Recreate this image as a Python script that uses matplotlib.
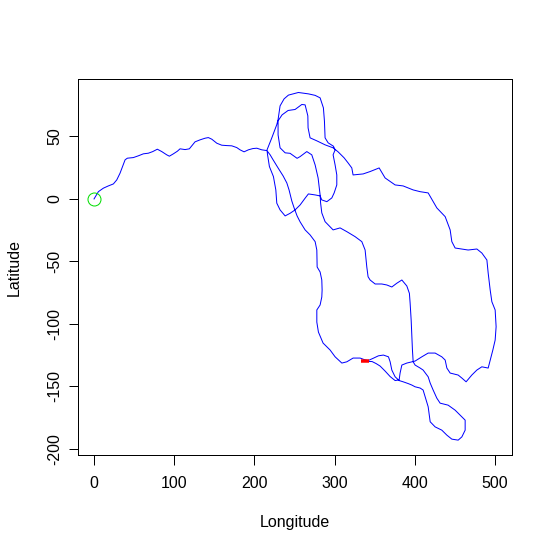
import matplotlib
matplotlib.use("Agg")
import matplotlib.pyplot as plt

# track, split into legs in the order they are walked
leg_west = [(0, 0), (5.4, 5.8), (11.6, 8.6), (17.8, 10.4), (24.1, 12.0), (28.3, 15.2),
            (32.4, 20.6), (35.8, 26.4), (38.7, 31.3), (41.5, 32.6), (49.0, 33.1),
            (55.2, 34.5), (61.5, 36.1), (67.7, 36.6), (73.2, 37.9), (78.9, 39.8),
            (84.4, 37.9), (90.6, 35.3), (93.9, 34.2), (98.9, 36.1), (103.9, 38.2),
            (107.2, 40.1), (113.5, 39.5), (118.8, 40.1), (121.8, 42.5), (125.9, 45.7),
            (132.2, 47.3), (138.4, 48.6), (142.5, 49.1), (146.8, 47.8), (153.0, 44.6),
            (159.2, 43.0), (165.5, 42.7), (171.7, 42.5), (177.9, 41.1), (182.0, 39.3),
            (187.0, 37.7), (192.4, 39.3), (197.9, 40.3), (202.9, 40.6), (209.1, 39.3),
            (215.3, 38.7)]

leg_north = [(221.6, 48.9), (227.8, 59.5), (229.4, 63.5), (231.9, 74.5), (236.9, 80.1),
             (242.3, 83.1), (254.7, 85.2), (267.2, 84.1), (275.6, 82.9), (281.8, 80.9),
             (285.9, 72.9), (287.2, 62.3), (288.0, 48.9), (291.8, 44.9), (298.4, 42.2),
             (300.5, 39.3), (298.0, 35.3), (300.5, 27.2), (302.6, 19.2), (302.6, 11.2),
             (299.3, 4.8), (296.4, 0.8), (290.2, -2.2), (283.9, -0.8), (281.8, 2.4),
             (275.6, 3.2), (267.2, 4.0), (263.1, 0.6), (256.9, -4.8), (250.6, -8.8),
             (244.4, -11.5), (238.2, -13.6), (231.9, -8.8), (227.8, -3.4), (226.6, 7.2),
             (223.6, 17.9), (218.6, 25.9), (216.3, 35.3), (215.7, 38.5)]

leg_south = [(219.5, 35.3), (223.2, 31.3), (229.4, 24.8), (235.7, 18.4), (240.3, 12.8),
             (243.1, 7.2), (246.5, -1.6), (249.4, -7.2), (253.1, -13.6), (256.9, -18.4),
             (263.1, -24.8), (269.3, -28.8), (275.6, -34.2), (277.7, -40.9), (278.1, -54.5),
             (281.8, -58.5), (283.9, -64.9), (284.3, -72.9), (283.9, -78.5), (281.8, -84.9),
             (277.7, -88.9), (277.7, -98.6), (279.7, -106.6), (285.5, -115.4),
             (294.3, -121.0), (300.5, -126.4), (308.9, -131.4), (315.1, -130.4),
             (322.9, -127.4), (331.7, -127.4), (336.7, -128.6), (341.6, -129.4)]

leg_cross = [(347.9, -127.6), (354.5, -125.6), (360.7, -125.0), (367.0, -126.4),
             (369.1, -130.4), (371.2, -137.0), (375.3, -142.4), (380.3, -145.4)]

leg_bottom = [(385.3, -146.4), (391.5, -147.8), (396.1, -149.0), (400.2, -150.4),
              (406.5, -151.4), (410.2, -153.0), (412.7, -158.4), (416.5, -166.4),
              (419.0, -178.4), (425.2, -182.5), (433.5, -185.1), (439.8, -189.1),
              (446.0, -192.3), (453.9, -193.1), (458.5, -190.5), (462.6, -185.1),
              (462.6, -177.1), (456.4, -173.1), (450.1, -169.1), (441.4, -165.1),
              (431.4, -163.5), (427.3, -159.5), (422.7, -153.0), (419.0, -147.4),
              (416.5, -142.4), (410.2, -137.0), (406.5, -135.4), (400.2, -133.0),
              (397.8, -130.4)]

leg_middle = [(396.9, -121.0), (396.1, -109.0), (395.3, -97.0), (394.0, -83.3),
              (393.1, -75.6), (389.9, -69.7), (383.7, -64.9), (377.4, -67.5),
              (371.2, -70.5), (365.0, -68.9), (358.7, -68.1), (350.4, -68.1),
              (344.1, -64.9), (341.6, -62.3), (340.0, -54.5), (337.9, -40.9),
              (333.8, -34.2), (325.4, -30.2), (315.1, -26.2), (306.7, -23.2),
              (298.0, -24.8), (288.0, -18.2), (283.9, -11.2), (282.4, -3.2),
              (281.8, 3.2), (279.3, 16.8), (275.6, 27.2), (271.4, 35.3), (265.2, 37.9),
              (263.1, 36.9), (256.9, 33.9), (253.1, 32.5), (244.4, 36.5), (238.2, 36.9),
              (231.9, 40.9), (229.4, 51.3), (229.4, 62.5)]

leg_inner = [(234.4, 67.3), (241.9, 70.8), (250.6, 71.6), (259.0, 75.6), (263.1, 75.3),
             (266.5, 66.5), (266.8, 56.9), (269.3, 48.9), (277.7, 46.5), (288.0, 43.3),
             (298.0, 40.9), (304.2, 37.7), (311.7, 32.9), (316.7, 28.8), (321.3, 24.8),
             (322.9, 19.2), (335.4, 20.0), (344.1, 21.9), (355.4, 24.8), (362.8, 16.8),
             (375.3, 11.2), (385.3, 10.4), (397.8, 7.2), (406.5, 5.8), (416.5, 4.8),
             (427.3, -7.2), (437.7, -14.2), (443.9, -24.8), (446.0, -34.2),
             (450.1, -39.3), (458.5, -40.1), (466.3, -40.9), (477.2, -40.1),
             (483.4, -43.3), (489.7, -48.9)]

leg_east = [(491.3, -59.3), (493.8, -72.9), (495.9, -82.3), (500.0, -88.9),
            (501.2, -102.3), (500.0, -113.0), (497.1, -121.0), (493.8, -129.0),
            (491.3, -135.4), (483.4, -134.4), (477.2, -137.0), (470.9, -141.0),
            (463.8, -146.4), (458.5, -143.4), (453.9, -141.0), (443.9, -139.4),
            (439.8, -135.4), (437.7, -129.0), (433.5, -126.4), (425.2, -123.4),
            (416.5, -123.4), (408.6, -126.4), (400.2, -129.8), (389.9, -131.4),
            (383.7, -133.0), (381.5, -139.4), (380.3, -144.9)]

leg_return = [(375.3, -145.4), (369.1, -142.2), (362.8, -137.8), (356.6, -133.8),
              (351.6, -131.8), (346.6, -130.2), (337.9, -130.0)]

legs = [leg_west, leg_north, leg_south, leg_cross, leg_bottom,
        leg_middle, leg_inner, leg_east, leg_return]

track = [p for leg in legs for p in leg]
lon = [p[0] for p in track]
lat = [p[1] for p in track]

plt.rcParams["font.family"] = ["Liberation Sans", "DejaVu Sans"]
plt.rcParams["axes.unicode_minus"] = False

W, H = 553, 552
fig = plt.figure(figsize=(W / 72, H / 72), dpi=72)
ax = fig.add_axes([78 / W, (H - 455) / H, (512 - 78) / W, (455 - 79) / H])

ax.plot(lon, lat, color="blue", lw=1)
ax.plot(lon[0], lat[0], marker="o", ms=13, mfc="none", mec="#00DD00", mew=1)
ax.plot(lon[-1], lat[-1], marker="_", ms=8, mew=3.5, color="red")

ax.set_xlim(-20, 521)
ax.set_ylim(-205, 96)
ax.set_xticks([0, 100, 200, 300, 400, 500])
ax.set_yticks([-200, -150, -100, -50, 0, 50])
ax.tick_params(direction="out", length=9.5, width=1, labelsize=16)
ax.tick_params(axis="x", pad=11)
ax.tick_params(axis="y", pad=6)
for lab in ax.get_yticklabels():
    lab.set_rotation(90)
    lab.set_va("center")
for s in ax.spines.values():
    s.set_linewidth(1)

ax.set_xlabel("Longitude", fontsize=16, labelpad=25)
ax.set_ylabel("Latitude", fontsize=16, labelpad=26)

fig.savefig("out.png", dpi=72)
